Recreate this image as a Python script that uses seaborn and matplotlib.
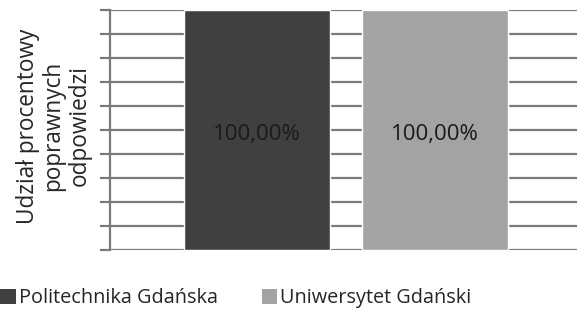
import matplotlib
matplotlib.use("Agg")
import matplotlib.pyplot as plt
import seaborn as sns
import pandas as pd
from matplotlib.patches import Patch

categories = ["Politechnika Gdańska", "Uniwersytet Gdański"]
values = [1.0, 1.0]
labels = ["100,00%", "100,00%"]
colors = ["#404040", "#a3a3a3"]
ylabel = "Udział procentowy\npoprawnych\nodpowiedzi"

sns.set_style("white")
plt.rcParams["font.family"] = ["Open Sans", "DejaVu Sans"]

df = pd.DataFrame({"uczelnia": categories, "udzial": values})

fig = plt.figure(figsize=(5.77, 3.11), dpi=100)
ax = fig.add_axes([110/577, 1 - 250/311, (577-110)/577, 240/311])

sns.barplot(data=df, x="uczelnia", y="udzial", hue="uczelnia",
            palette=colors, width=0.82, dodge=False, legend=False, ax=ax,
            saturation=1, zorder=3)

ax.set_ylim(0, 1.0)
ax.set_xlim(-0.828, 1.80)
ax.set_yticks([i / 10 for i in range(11)])
ax.set_yticklabels([])
ax.set_xticks([])
ax.set_xlabel("")
ax.grid(axis="y", color="#7a7a7a", linewidth=1.6, zorder=0)
ax.set_axisbelow(True)
ax.tick_params(axis="y", direction="out", length=7, width=1.6, color="#7a7a7a", left=True)
for s in ["top", "right", "bottom"]:
    ax.spines[s].set_visible(False)
ax.spines["left"].set_color("#7a7a7a")
ax.spines["left"].set_linewidth(1.6)

for i, lab in enumerate(labels):
    ax.text(i, values[i] * 0.48, lab, ha="center", va="center", fontsize=16, color="#1a1a1a", zorder=5)

ax.set_ylabel(ylabel, fontsize=16.3, linespacing=1.1)
ax.yaxis.set_label_coords(-0.04, 0.517)

handles = [Patch(facecolor=c, edgecolor="none") for c in colors]
fig.legend(handles, categories, loc="center left", bbox_to_anchor=(0.0, 13/311),
           ncol=2, frameon=False, fontsize=14.3, handlelength=0.8, handleheight=0.8,
           handletextpad=0.15, columnspacing=2.2, borderpad=0.0, borderaxespad=0.0)

fig.savefig("out.png", dpi=100, facecolor="white")
